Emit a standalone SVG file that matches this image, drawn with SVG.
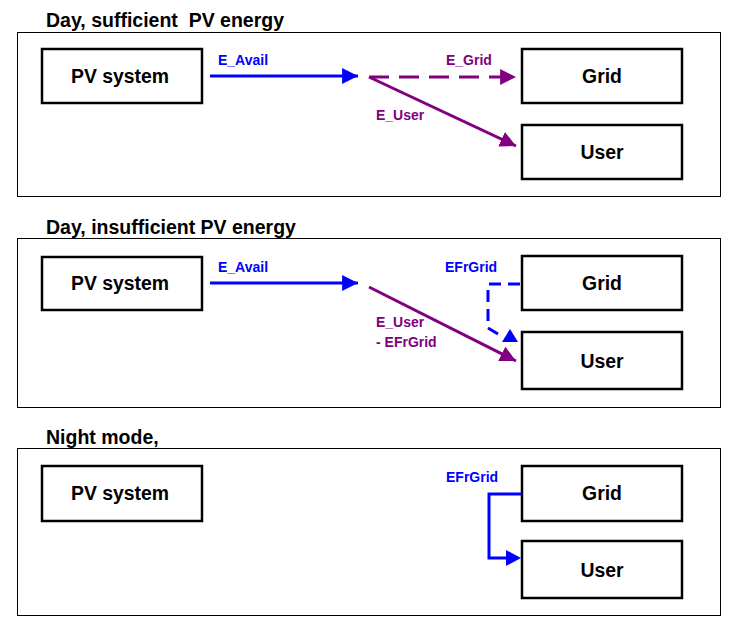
<svg xmlns="http://www.w3.org/2000/svg" width="737" height="625" viewBox="0 0 737 625">
<style>
.panel{fill:#fff;stroke:#000;stroke-width:1}
.box{fill:#fff;stroke:#000;stroke-width:2.5}
.title{font-family:"Liberation Sans",Arial,sans-serif;font-weight:bold;font-size:19.5px;fill:#000;white-space:pre}
.blabel{font-family:"Liberation Sans",Arial,sans-serif;font-weight:bold;font-size:19.4px;fill:#000;text-anchor:middle}
.lbl{font-family:"Liberation Sans",Arial,sans-serif;font-weight:bold;font-size:14px}
.blue{fill:#0000ff}
.purple{fill:#800080}
.lb{stroke:#0000ff;stroke-width:3;fill:none}
.lp{stroke:#800080;stroke-width:3;fill:none}
</style>
<defs>
<marker id="ab" viewBox="0 0 10 10" refX="10" refY="5" markerWidth="5.3" markerHeight="5.3" markerUnits="strokeWidth" orient="auto"><path d="M0,0L10,5L0,10z" fill="#0000ff"/></marker>
<marker id="ap" viewBox="0 0 10 10" refX="10" refY="5" markerWidth="5.3" markerHeight="5.3" markerUnits="strokeWidth" orient="auto"><path d="M0,0L10,5L0,10z" fill="#800080"/></marker>
</defs>
<rect width="737" height="625" fill="#fff"/>

<g id="panel1">
<rect class="panel" x="17.5" y="32.5" width="703" height="164"/>
<text class="title" x="46" y="27" xml:space="preserve">Day, sufficient  PV energy</text>
</g>
<g id="pv1"><rect class="box" x="42" y="49" width="160" height="54"/><text class="blabel" x="120" y="83">PV system</text></g>
<g id="grid1"><rect class="box" x="522" y="49" width="160" height="54"/><text class="blabel" x="602" y="83">Grid</text></g>
<g id="user1"><rect class="box" x="522" y="125" width="160" height="54"/><text class="blabel" x="602" y="159">User</text></g>

<g id="panel2">
<rect class="panel" x="17.5" y="238.5" width="703" height="169"/>
<text class="title" x="46" y="234">Day, insufficient PV energy</text>
</g>
<g id="pv2"><rect class="box" x="42" y="257" width="160" height="53"/><text class="blabel" x="120" y="290">PV system</text></g>
<g id="grid2"><rect class="box" x="522" y="256" width="160" height="54"/><text class="blabel" x="602" y="290">Grid</text></g>
<g id="user2"><rect class="box" x="522" y="332" width="160" height="57"/><text class="blabel" x="602" y="368">User</text></g>

<g id="panel3">
<rect class="panel" x="17.5" y="448.5" width="703" height="167"/>
<text class="title" x="46" y="444">Night mode,</text>
</g>
<g id="pv3"><rect class="box" x="42" y="466" width="160" height="55"/><text class="blabel" x="120" y="500">PV system</text></g>
<g id="grid3"><rect class="box" x="522" y="466" width="160" height="55"/><text class="blabel" x="602" y="500">Grid</text></g>
<g id="user3"><rect class="box" x="522" y="541" width="160" height="57"/><text class="blabel" x="602" y="577">User</text></g>

<g id="connectors">
<line class="lb" x1="210" y1="76" x2="358" y2="76" marker-end="url(#ab)"/>
<text class="lbl blue" x="218" y="65">E_Avail</text>
<line class="lp" x1="369" y1="77" x2="516" y2="77" stroke-dasharray="20,10" marker-end="url(#ap)"/>
<text class="lbl purple" x="446" y="65">E_Grid</text>
<line class="lp" x1="369" y1="77" x2="516" y2="146" marker-end="url(#ap)"/>
<text class="lbl purple" x="376" y="120">E_User</text>

<line class="lb" x1="210" y1="283" x2="358" y2="283" marker-end="url(#ab)"/>
<text class="lbl blue" x="218" y="272">E_Avail</text>
<line class="lp" x1="369" y1="287" x2="516" y2="361" marker-end="url(#ap)"/>
<text class="lbl purple" x="376" y="327">E_User</text>
<text class="lbl purple" x="376" y="347">- EFrGrid</text>
<path class="lb" d="M520,284H488V328L498,334" stroke-dasharray="12,7"/>
<polygon points="510,329 502,342 518,342" fill="#0000ff"/>
<text class="lbl blue" x="445" y="272">EFrGrid</text>

<path class="lb" d="M522,494H489V558H508"/>
<polygon points="506,550 521,558 506,566" fill="#0000ff"/>
<text class="lbl blue" x="446" y="482">EFrGrid</text>
</g>
</svg>
